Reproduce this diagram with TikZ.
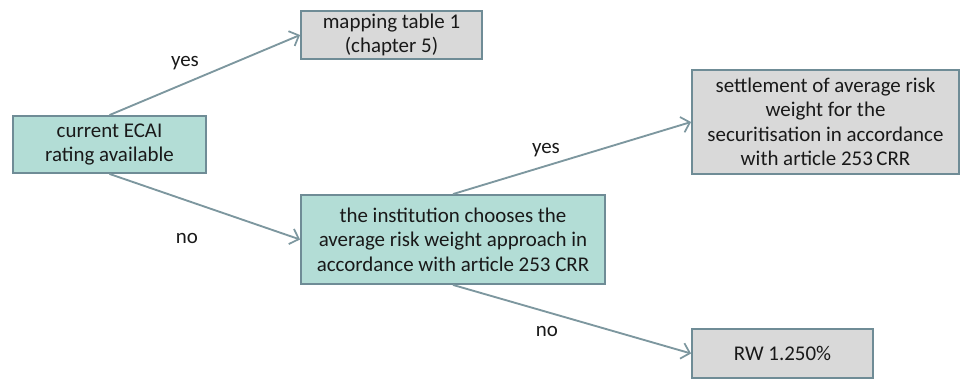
\documentclass[tikz,border=0pt]{standalone}
\usepackage{fontspec}
\setmainfont{Carlito}
\usetikzlibrary{arrows.meta}
\definecolor{tealfill}{HTML}{B3DDD6}
\definecolor{greyfill}{HTML}{D9D9D9}
\definecolor{boxline}{HTML}{6F8C96}
\definecolor{arrowline}{HTML}{7D979F}
\tikzset{
  box/.style={draw=boxline, line width=1.4pt, align=center, inner sep=0pt,
    font=\fontsize{15.7}{18.4}\selectfont, text=black!90},
  decision/.style={box, fill=tealfill},
  result/.style={box, fill=greyfill},
  flow/.style={draw=arrowline, line width=1.4pt,
    -{Straight Barb[length=6pt, width=12pt, line width=1.3pt]}},
  tag/.style={font=\fontsize{15.7}{18.4}\selectfont, text=black!90, inner sep=0pt}
}
\begin{document}
\begin{tikzpicture}[x=0.75pt, y=-0.75pt]
  \useasboundingbox (0,0) rectangle (965,379);

  % decision boxes
  \node[decision, minimum width=144.75pt, minimum height=42.75pt] (ecai) at (109.5,144.5)
    {current ECAI\\rating available};
  \node[decision, minimum width=228pt, minimum height=66.75pt] (inst) at (453,239.5)
    {the institution chooses the\\average risk weight approach in\\accordance with article 253 CRR};

  % outcome boxes
  \node[result, minimum width=135.75pt, minimum height=36pt] (map) at (391.5,35)
    {mapping table 1\\(chapter 5)};
  \node[result, minimum width=200.25pt, minimum height=78pt] (settle) at (825.5,122)
    {settlement of average risk\\weight for the\\securitisation in accordance\\with article 253\,CRR};
  \node[result, minimum width=135.75pt, minimum height=36.75pt] (rw) at (782.5,353.5)
    {RW 1.250\%};

  % connectors
  \draw[flow] (ecai.north) -- (map.west);
  \draw[flow] (ecai.south) -- (inst.west);
  \draw[flow] (inst.north) -- (settle.west);
  \draw[flow] (inst.south) -- (rw.west);

  % branch labels
  \node[tag] (yesA) at (185,63) {yes};
  \node[tag] (noA) at (187,238) {no};
  \node[tag] (yesB) at (546,150) {yes};
  \node[tag] (noB) at (547,331) {no};
\end{tikzpicture}
\end{document}
